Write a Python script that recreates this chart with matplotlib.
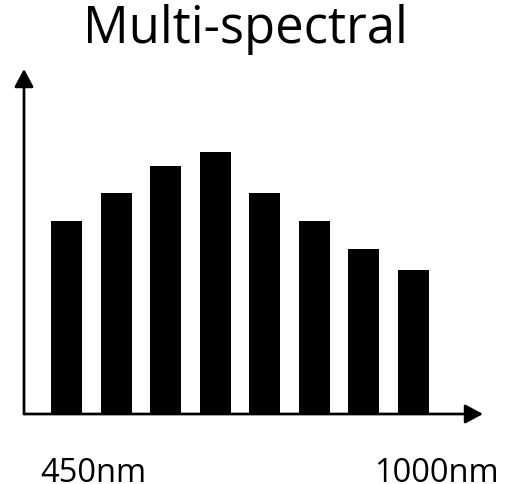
import matplotlib
matplotlib.use("Agg")
import matplotlib.pyplot as plt
import numpy as np

# Data
bands = ["b1", "b2", "b3", "b4", "b5", "b6", "b7", "b8"]
intensity = [193, 221, 248, 262, 221, 193, 165, 144]
title = "Multi-spectral"
start_label = "450nm"
end_label = "1000nm"

W, H = 514, 484
fig = plt.figure(figsize=(W / 100, H / 100), dpi=100)
fig.patch.set_facecolor("white")

# axes: y-axis at x=24px, x-axis at y=414px, top at 69px, right at 483px
left, right, top, bottom = 24, 483, 69, 414
ax = fig.add_axes([left / W, (H - bottom) / H, (right - left) / W, (bottom - top) / H])
ax.set_axis_off()

spacing = 49.57
x0 = 42.5
width_px = (right - left)
ax.set_xlim(-x0 / spacing, (width_px - x0) / spacing)
ax.set_ylim(0, bottom - top)

x = np.arange(len(bands))
ax.bar(x, intensity, width=31 / spacing, color="black", zorder=2)

arrow = dict(arrowstyle="-|>,head_length=1.08,head_width=0.58", lw=1.95,
             color="black", mutation_scale=10, shrinkA=0, shrinkB=0)
ax.annotate("", xy=(1, 0), xytext=(0, 0), xycoords="axes fraction",
            textcoords="axes fraction", arrowprops=arrow, zorder=3)
ax.annotate("", xy=(0, 1), xytext=(0, 0), xycoords="axes fraction",
            textcoords="axes fraction", arrowprops=arrow, zorder=3)

font = "Open Sans"
fig.text(245 / W, (H - 42.7) / H, title, ha="center", va="baseline",
         fontsize=36.5, family=font)
fig.text(40.7 / W, (H - 482) / H, start_label, ha="left", va="baseline",
         fontsize=23.5, family=font)
fig.text(499 / W, (H - 482) / H, end_label, ha="right", va="baseline",
         fontsize=23.5, family=font)

fig.savefig("out.png", dpi=100, facecolor="white")
